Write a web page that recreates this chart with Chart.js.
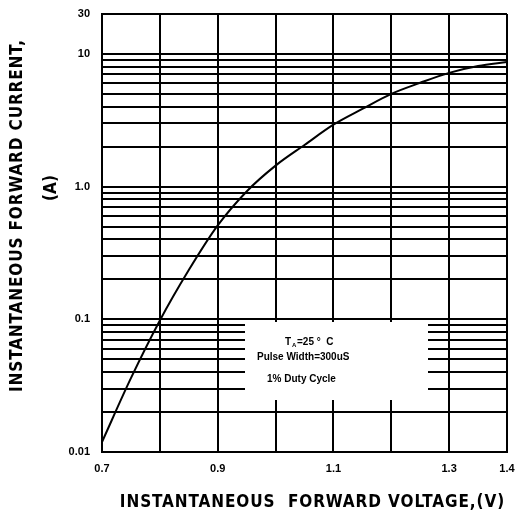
<!DOCTYPE html>
<html>
<head>
<meta charset="utf-8">
<script src="https://cdn.jsdelivr.net/npm/chart.js@4.4.1/dist/chart.umd.min.js"></script>
<style>
  html, body { margin: 0; padding: 0; background: #fff; }
  #wrap { width: 517px; height: 512px; }
</style>
</head>
<body>
<div id="wrap"><canvas id="fwd"></canvas></div>
<script>
/* forward characteristic */
var voltage = [0.7, 0.75, 0.8, 0.85, 0.9, 0.95, 1.0, 1.05, 1.1, 1.15, 1.2, 1.25, 1.3, 1.35, 1.4];
var current = [0.0119, 0.036, 0.098, 0.235, 0.51, 0.92, 1.44, 2.06, 2.93, 3.85, 5.0, 6.06, 7.2, 8.1, 8.7];

var xGridValues = [0.7, 0.8, 0.9, 1.0, 1.1, 1.2, 1.3, 1.4];
var xTickLabels = ['0.7', '', '0.9', '', '1.1', '', '1.3', '1.4'];

var yGridValues = [0.01, 0.02, 0.03, 0.04, 0.05, 0.06, 0.07, 0.08, 0.09,
                   0.1, 0.2, 0.3, 0.4, 0.5, 0.6, 0.7, 0.8, 0.9,
                   1, 2, 3, 4, 5, 6, 7, 8, 9, 10, 20];
var yTickLabels = {'0.01': '0.01', '0.1': '0.1', '1': '1.0', '10': '10', '20': '30'};

var yTitle = 'INSTANTANEOUS FORWARD CURRENT,';
var yUnit = '(A)';
var xTitle = 'INSTANTANEOUS  FORWARD VOLTAGE,(V)';
var noteLines = ['=25 °  C', 'Pulse Width=300uS', '1% Duty Cycle'];

var tickFont = {family: 'Liberation Sans', size: 11, weight: 'bold'};
var titleFont = 'bold 17px "DejaVu Sans Condensed", "DejaVu Sans", sans-serif';

// spread letters so a title covers the same length as on the sheet
function spreadText(ctx, text, x, y, width) {
  ctx.letterSpacing = '0px';
  var w = ctx.measureText(text).width;
  var sp = Math.max(0, (width - w) / text.length);
  ctx.letterSpacing = sp.toFixed(2) + 'px';
  ctx.fillText(text, x + sp / 2, y, width + 4);
  ctx.letterSpacing = '0px';
}

/* ── titles + the note box drawn on top of the grid ── */
var sheetText = {
  id: 'sheetText',
  beforeDatasetsDraw: function(chart) {
    var ctx = chart.ctx;
    ctx.save();
    ctx.fillStyle = '#fff';
    ctx.fillRect(245, 322, 183, 78);
    ctx.fillStyle = '#000';
    ctx.textBaseline = 'middle';
    ctx.textAlign = 'left';
    ctx.font = 'bold 10px "Liberation Sans"';
    ctx.fillText('T', 285, 342);
    ctx.font = 'bold 6px "Liberation Sans"';
    ctx.fillText('A', 292, 345);
    ctx.font = 'bold 10px "Liberation Sans"';
    ctx.fillText(noteLines[0], 297, 342);
    ctx.fillText(noteLines[1], 257, 357);
    ctx.fillText(noteLines[2], 267, 379);
    ctx.restore();
  },
  afterDraw: function(chart) {
    var ctx = chart.ctx;
    ctx.save();
    ctx.fillStyle = '#000';
    ctx.textAlign = 'center';
    ctx.textBaseline = 'middle';
    ctx.font = titleFont;
    spreadText(ctx, xTitle, 312, 503, 385);
    ctx.translate(18, 216);
    ctx.rotate(-Math.PI / 2);
    spreadText(ctx, yTitle, 0, 0, 353);
    ctx.restore();
    ctx.save();
    ctx.fillStyle = '#000';
    ctx.textAlign = 'center';
    ctx.textBaseline = 'middle';
    ctx.font = titleFont;
    ctx.translate(52, 188);
    ctx.rotate(-Math.PI / 2);
    ctx.fillText(yUnit, 0, 0);
    ctx.restore();
  }
};

new Chart(document.getElementById('fwd'), {
  type: 'line',
  data: {datasets: [{
    data: voltage.map(function(v, i) { return {x: v, y: current[i]}; }),
    borderColor: '#000',
    borderWidth: 2,
    pointRadius: 0,
    cubicInterpolationMode: 'monotone',
    fill: false
  }]},
  options: {
    responsive: true, maintainAspectRatio: false, animation: false,
    layout: {padding: {left: 0, top: 14, right: 10, bottom: 0}},
    plugins: {legend: {display: false}, tooltip: {enabled: false}},
    scales: {
      x: {
        type: 'linear', min: 0.7, max: 1.4,
        afterBuildTicks: function(s) { s.ticks = xGridValues.map(function(v) { return {value: v}; }); },
        afterFit: function(s) { s.height = 60; s.paddingLeft = 0; s.paddingRight = 0; },
        grid: {color: '#000', lineWidth: 2, drawTicks: false},
        border: {color: '#000', width: 2},
        ticks: {
          color: '#000', font: tickFont, padding: 10, autoSkip: false, maxRotation: 0,
          callback: function(v, i) { return xTickLabels[i]; }
        }
      },
      y: {
        type: 'logarithmic', min: 0.01, max: 20,
        afterBuildTicks: function(s) { s.ticks = yGridValues.map(function(v) { return {value: v}; }); },
        afterFit: function(s) { s.width = 102; s.paddingTop = 0; s.paddingBottom = 0; },
        grid: {color: '#000', lineWidth: 2, drawTicks: false},
        border: {color: '#000', width: 2},
        ticks: {
          color: '#000', font: tickFont, padding: 12, autoSkip: false,
          callback: function(v) { return yTickLabels[String(v)] || ''; }
        }
      }
    }
  },
  plugins: [sheetText]
});
</script>
</body>
</html>
